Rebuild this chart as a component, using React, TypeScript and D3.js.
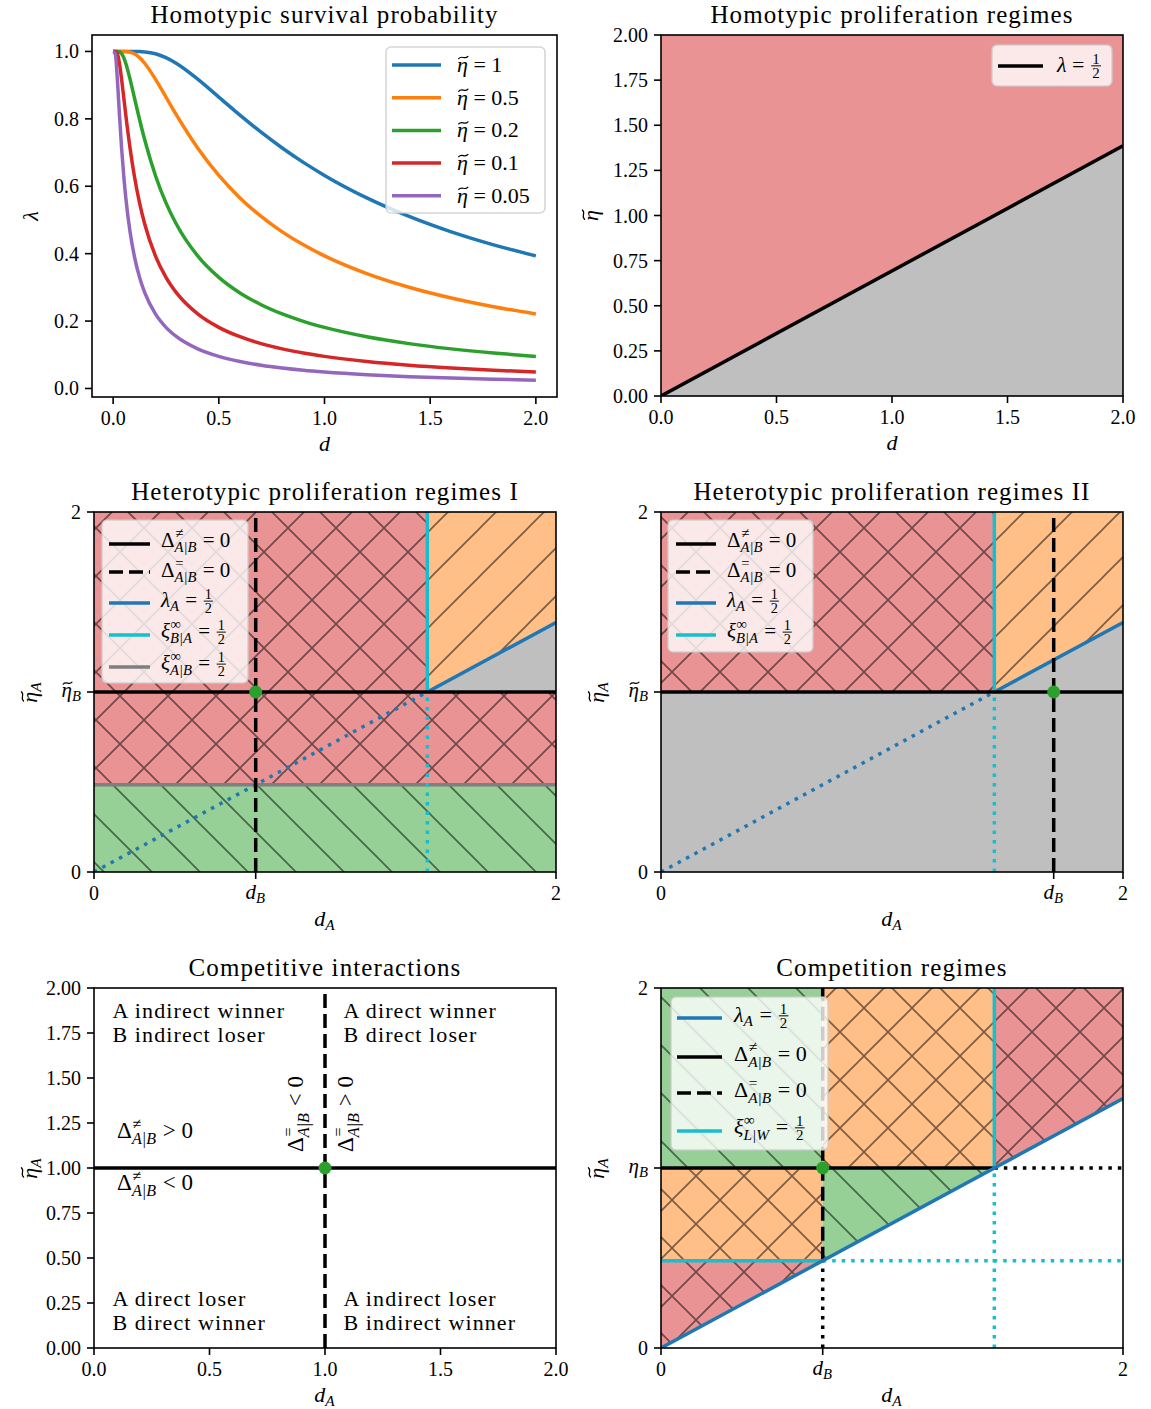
import React from 'react';
import * as d3 from 'd3';

// ---------- survival curves: lambda(d) for several eta~ ----------
const dGrid = [0, 0.01, 0.02, 0.03, 0.04, 0.05, 0.06, 0.08, 0.1, 0.125, 0.15, 0.2, 0.25, 0.3, 0.4, 0.5, 0.6, 0.7, 0.8, 0.9, 1.0, 1.2, 1.4, 1.6, 1.8, 2.0];
const survivalEta1 = [1, 1, 1, 1, 1, 1, 1, 1, 1, 0.9997, 0.9987, 0.9933, 0.9817, 0.9643, 0.9179, 0.8647, 0.8111, 0.7604, 0.7135, 0.6708, 0.6321, 0.5654, 0.5105, 0.4647, 0.4262, 0.3935];
const survivalEta05 = [1, 1, 1, 1, 1, 1, 0.9998, 0.9981, 0.9933, 0.9817, 0.9643, 0.9179, 0.8647, 0.8111, 0.7135, 0.6321, 0.5654, 0.5105, 0.4647, 0.4262, 0.3935, 0.3408, 0.3003, 0.2684, 0.2425, 0.2212];
const survivalEta02 = [1, 1, 1, 0.9987, 0.9933, 0.9817, 0.9643, 0.9179, 0.8647, 0.7981, 0.7364, 0.6321, 0.5507, 0.4866, 0.3935, 0.3297, 0.2835, 0.2485, 0.2212, 0.1993, 0.1813, 0.1535, 0.1331, 0.1175, 0.1052, 0.0952];
const survivalEta01 = [1, 1, 0.9933, 0.9643, 0.9179, 0.8647, 0.8111, 0.7135, 0.6321, 0.5507, 0.4866, 0.3935, 0.3297, 0.2835, 0.2212, 0.1813, 0.1535, 0.1331, 0.1175, 0.1052, 0.0952, 0.08, 0.0689, 0.0606, 0.054, 0.0488];
const survivalEta005 = [1, 0.9933, 0.9179, 0.8111, 0.7135, 0.6321, 0.5654, 0.4647, 0.3935, 0.3297, 0.2835, 0.2212, 0.1813, 0.1535, 0.1175, 0.0952, 0.08, 0.0689, 0.0606, 0.054, 0.0488, 0.0408, 0.0351, 0.0308, 0.0274, 0.0247];
const survivalSeries = [survivalEta1, survivalEta05, survivalEta02, survivalEta01, survivalEta005];
const etaTildeLabels = ['1', '0.5', '0.2', '0.1', '0.05'];

// ---------- regime thresholds ----------
const halfLineD = [0, 2];          // lambda = 1/2 boundary
const halfLineEta = [0, 1.386];
const ETA_B = 1;                   // eta~_B
const D_B_I = 0.7;                 // d_B, regimes I and competition
const D_B_II = 1.7;                // d_B, regimes II
const D_HALF = 1.443;              // where lambda_A = 1/2 meets eta~_B
const ETA_XI = 0.485;              // xi = 1/2 level
const D_EQ = 1.0;                  // competitive interactions crossing
const ETA_EQ = 1.0;

const xTicksHalf = [0, 0.5, 1, 1.5, 2];
const xTickLabels = ['0.0', '0.5', '1.0', '1.5', '2.0'];
const yTicks1 = [0, 0.2, 0.4, 0.6, 0.8, 1.0];
const yTickLabels1 = ['0.0', '0.2', '0.4', '0.6', '0.8', '1.0'];
const yTicksQuarter = [0, 0.25, 0.5, 0.75, 1, 1.25, 1.5, 1.75, 2];
const yTickLabelsQuarter = ['0.00', '0.25', '0.50', '0.75', '1.00', '1.25', '1.50', '1.75', '2.00'];

const quadrantNotes = [
  { d: 0.08, eta: 1.833, lines: ['A indirect winner', 'B indirect loser'] },
  { d: 1.08, eta: 1.833, lines: ['A direct winner', 'B direct loser'] },
  { d: 0.08, eta: 0.233, lines: ['A direct loser', 'B direct winner'] },
  { d: 1.08, eta: 0.233, lines: ['A indirect loser', 'B indirect winner'] },
];

// ---------- styling ----------
const W = 1151, H = 1409;
const FONT = '"Liberation Serif", "Times New Roman", serif';
const C = { blue: '#1f77b4', orange: '#ff7f0e', green: '#2ca02c', red: '#d62728', purple: '#9467bd', cyan: '#17becf', gray: '#7f7f7f' };
const FILL = { red: '#ea9394', orange: '#ffbf87', green: '#96d096', gray: '#bfbfbf' };
const curveColors = [C.blue, C.orange, C.green, C.red, C.purple];
const LW = 3.5;
const DASH = '14 6';
const DOT = '3.5 6';

// ---------- math-ish text ----------
type Tok = { t?: string; it?: boolean; tilde?: boolean; sup?: string; sub?: string; frac?: [string, string] };
let mctx: CanvasRenderingContext2D | null = null;
const nb = (s: string) => s.replace(/ /g, '\u00a0');
function tw(s: string, size: number, it?: boolean) {
  if (!mctx) mctx = document.createElement('canvas').getContext('2d');
  if (!mctx) return s.length * size * 0.5;
  mctx.font = `${it ? 'italic ' : ''}${size}px ${FONT}`;
  return mctx.measureText(nb(s)).width;
}

function MathText({ x, y, toks, size = 20, anchor = 'start', rotate = 0 }: { x: number; y: number; toks: Tok[]; size?: number; anchor?: string; rotate?: number }) {
  const els: any[] = [];
  let cx = 0;
  toks.forEach((tk, i) => {
    if (tk.frac) {
      const fs = size * 0.68;
      const w = Math.max(tw(tk.frac[0], fs), tw(tk.frac[1], fs)) + size * 0.22;
      const ax = -size * 0.28;
      const mid = cx + w / 2;
      els.push(<line key={i + 'b'} x1={cx + size * 0.06} x2={cx + w - size * 0.06} y1={ax} y2={ax} stroke="#000" strokeWidth={size * 0.045} />);
      els.push(<text key={i + 'n'} x={mid} y={ax - size * 0.09} fontSize={fs} textAnchor="middle">{tk.frac[0]}</text>);
      els.push(<text key={i + 'd'} x={mid} y={ax + size * 0.1 + fs * 0.68} fontSize={fs} textAnchor="middle">{tk.frac[1]}</text>);
      cx += w;
    } else if (tk.sup !== undefined || tk.sub !== undefined) {
      const fs = size * 0.7;
      const both = tk.sup !== undefined && tk.sub !== undefined;
      let w = 0;
      if (tk.sup !== undefined) {
        els.push(<text key={i + 'p'} x={cx + size * 0.03} y={-size * 0.41} fontSize={fs}>{tk.sup}</text>);
        w = Math.max(w, tw(tk.sup, fs));
      }
      if (tk.sub !== undefined) {
        els.push(<text key={i + 's'} x={cx} y={size * (both ? 0.25 : 0.2)} fontSize={fs} fontStyle="italic">{tk.sub}</text>);
        w = Math.max(w, tw(tk.sub, fs, true));
      }
      cx += w + size * 0.05;
    } else {
      const s = tk.t || '';
      const w = tw(s, size, tk.it);
      els.push(<text key={i} x={cx} y={0} fontSize={size} fontStyle={tk.it ? 'italic' : 'normal'}>{nb(s)}</text>);
      if (tk.tilde) {
        const m = cx + w * 0.58;
        const ty = -size * 0.66;
        const ww = size * 0.42;
        const a = size * 0.05;
        const x0 = m - ww / 2;
        els.push(<path key={i + 't'} d={`M${x0},${ty + a} C${x0 + ww / 3},${ty - 2.4 * a} ${x0 + (2 * ww) / 3},${ty + 2.4 * a} ${x0 + ww},${ty - a}`} fill="none" stroke="#000" strokeWidth={size * 0.055} strokeLinecap="round" />);
      }
      cx += w;
    }
  });
  const dx = anchor === 'middle' ? -cx / 2 : anchor === 'end' ? -cx : 0;
  return <g transform={`translate(${x},${y}) rotate(${rotate}) translate(${dx},0)`}>{els}</g>;
}

// token sets
const tEta: Tok[] = [{ t: 'η', it: true, tilde: true }];
const tEtaA: Tok[] = [{ t: 'η', it: true, tilde: true }, { sub: 'A' }];
const tEtaB: Tok[] = [{ t: 'η', it: true, tilde: true }, { sub: 'B' }];
const tEtaBPlain: Tok[] = [{ t: 'η', it: true }, { sub: 'B' }];
const tD: Tok[] = [{ t: 'd', it: true }];
const tDA: Tok[] = [{ t: 'd', it: true }, { sub: 'A' }];
const tDB: Tok[] = [{ t: 'd', it: true }, { sub: 'B' }];
const tLam: Tok[] = [{ t: 'λ', it: true }];
const tDneq = (rel: string): Tok[] => [{ t: 'Δ' }, { sup: '≠', sub: 'A|B' }, { t: rel }];
const tDeq = (rel: string): Tok[] => [{ t: 'Δ' }, { sup: '=', sub: 'A|B' }, { t: rel }];
const tLamHalf: Tok[] = [{ t: 'λ', it: true }, { t: ' = ' }, { frac: ['1', '2'] }];
const tLamAHalf: Tok[] = [{ t: 'λ', it: true }, { sub: 'A' }, { t: ' = ' }, { frac: ['1', '2'] }];
const tXi = (sub: string): Tok[] => [{ t: 'ξ', it: true }, { sup: '∞', sub }, { t: ' = ' }, { frac: ['1', '2'] }];

// ---------- helpers ----------
type Sc = d3.ScaleLinear<number, number>;
type Box = { x0: number; x1: number; y0: number; y1: number };
const polyPath = (xs: Sc, ys: Sc, pts: [number, number][]) => 'M' + pts.map(([a, b]) => `${xs(a)},${ys(b)}`).join('L') + 'Z';

function Region({ xs, ys, pts, fill, hatch }: { xs: Sc; ys: Sc; pts: [number, number][]; fill: string; hatch?: string }) {
  const d = polyPath(xs, ys, pts);
  return (
    <g>
      <path d={d} fill={fill} />
      {hatch && <path d={d} fill={`url(#${hatch})`} />}
    </g>
  );
}

function Seg({ xs, ys, a, b, color, dash, w = LW }: { xs: Sc; ys: Sc; a: [number, number]; b: [number, number]; color: string; dash?: string; w?: number }) {
  const d = d3.line()([[xs(a[0]), ys(a[1])], [xs(b[0]), ys(b[1])]]) || '';
  return <path d={d} fill="none" stroke={color} strokeWidth={w} strokeDasharray={dash} />;
}

type TickSpec = [number, string | Tok[]];
function Frame({ box, xs, ys, xt, yt, title, xlabel, ylabel, ylabOff }: { box: Box; xs: Sc; ys: Sc; xt: TickSpec[]; yt: TickSpec[]; title: string; xlabel: Tok[]; ylabel: Tok[]; ylabOff: number }) {
  const { x0, x1, y0, y1 } = box;
  return (
    <g>
      <rect x={x0} y={y0} width={x1 - x0} height={y1 - y0} fill="none" stroke="#000" strokeWidth={1.6} />
      {xt.map(([v, lab], i) => {
        const x = xs(v);
        return (
          <g key={'x' + i}>
            <line x1={x} x2={x} y1={y1} y2={y1 + 7} stroke="#000" strokeWidth={1.6} />
            {typeof lab === 'string'
              ? <text x={x} y={y1 + 28} fontSize={20} textAnchor="middle">{lab}</text>
              : <MathText x={x} y={y1 + 27} toks={lab} size={21} anchor="middle" />}
          </g>
        );
      })}
      {yt.map(([v, lab], i) => {
        const y = ys(v);
        return (
          <g key={'y' + i}>
            <line x1={x0 - 7} x2={x0} y1={y} y2={y} stroke="#000" strokeWidth={1.6} />
            {typeof lab === 'string'
              ? <text x={x0 - 13} y={y + 7} fontSize={20} textAnchor="end">{lab}</text>
              : <MathText x={x0 - 12} y={y + 5} toks={lab} size={21} anchor="end" />}
          </g>
        );
      })}
      <text x={(x0 + x1) / 2} y={y0 - 12} fontSize={25} letterSpacing={1.1} textAnchor="middle">{title}</text>
      <MathText x={(x0 + x1) / 2} y={y1 + 54} toks={xlabel} size={22} anchor="middle" />
      <MathText x={x0 - ylabOff} y={(y0 + y1) / 2} toks={ylabel} size={22} anchor="middle" rotate={-90} />
    </g>
  );
}

type LegendRow = { color: string; dash?: string; toks: Tok[]; base: number };
function Legend({ box, hx, tx, ys, rows, size = 22 }: { box: [number, number, number, number]; hx: [number, number]; tx: number; ys: number[]; rows: LegendRow[]; size?: number }) {
  const [x0, y0, x1, y1] = box;
  return (
    <g>
      <rect x={x0} y={y0} width={x1 - x0} height={y1 - y0} rx={5} fill="#fff" fillOpacity={0.8} stroke="#cccccc" strokeOpacity={0.8} strokeWidth={1.6} />
      {rows.map((r, i) => (
        <g key={i}>
          <line x1={hx[0]} x2={hx[1]} y1={ys[i]} y2={ys[i]} stroke={r.color} strokeWidth={LW} strokeDasharray={r.dash} />
          <MathText x={tx} y={ys[i] + r.base} toks={r.toks} size={size} />
        </g>
      ))}
    </g>
  );
}

const Dot = ({ xs, ys, p }: { xs: Sc; ys: Sc; p: [number, number] }) => <circle cx={xs(p[0])} cy={ys(p[1])} r={6.5} fill={C.green} />;

// ---------- layout ----------
const boxP1: Box = { x0: 92, x1: 557, y0: 35, y1: 397 };
const boxP2: Box = { x0: 661, x1: 1123, y0: 35, y1: 396 };
const boxP3: Box = { x0: 94, x1: 556, y0: 512, y1: 872 };
const boxP4: Box = { x0: 661, x1: 1123, y0: 512, y1: 872 };
const boxP5: Box = { x0: 94, x1: 556, y0: 988, y1: 1348 };
const boxP6: Box = { x0: 661, x1: 1123, y0: 988, y1: 1348 };
const sx = (b: Box, dom: [number, number] = [0, 2]) => d3.scaleLinear().domain(dom).range([b.x0, b.x1]);
const sy = (b: Box, dom: [number, number] = [0, 2]) => d3.scaleLinear().domain(dom).range([b.y1, b.y0]);
const Clip = ({ id, b }: { id: string; b: Box }) => (
  <clipPath id={id}><rect x={b.x0} y={b.y0} width={b.x1 - b.x0} height={b.y1 - b.y0} /></clipPath>
);

function SurvivalPanel() {
  const xs = sx(boxP1, [-0.1, 2.1]);
  const ys = sy(boxP1, [-0.0253, 1.0488]);
  const gen = d3.line<number>().x((_, i) => xs(dGrid[i])).y((v) => ys(v)).curve(d3.curveMonotoneX);
  const legendY = etaTildeLabels.map((_, i) => 65 + i * 32.7);
  return (
    <g>
      <g clipPath="url(#c1)">
        {survivalSeries.map((s, i) => (
          <path key={i} d={gen(s) || ''} fill="none" stroke={curveColors[i]} strokeWidth={LW} />
        ))}
      </g>
      <Frame box={boxP1} xs={xs} ys={ys} title="Homotypic survival probability"
        xt={xTicksHalf.map((v, i) => [v, xTickLabels[i]] as TickSpec)}
        yt={yTicks1.map((v, i) => [v, yTickLabels1[i]] as TickSpec)}
        xlabel={tD} ylabel={tLam} ylabOff={54} />
      <Legend box={[386, 47, 545, 213]} hx={[392, 441]} tx={457} ys={legendY}
        rows={etaTildeLabels.map((l, i) => ({ color: curveColors[i], toks: [...tEta, { t: ' = ' + l }], base: 7 }))} />
    </g>
  );
}

function HomotypicRegimes() {
  const xs = sx(boxP2), ys = sy(boxP2);
  const top: [number, number] = [halfLineD[1], halfLineEta[1]];
  return (
    <g>
      <g clipPath="url(#c2)">
        <Region xs={xs} ys={ys} fill={FILL.red} pts={[[halfLineD[0], halfLineEta[0]], [0, 2], [2, 2], top]} />
        <Region xs={xs} ys={ys} fill={FILL.gray} pts={[[halfLineD[0], halfLineEta[0]], top, [2, 0]]} />
        <Seg xs={xs} ys={ys} a={[halfLineD[0], halfLineEta[0]]} b={top} color="#000" />
      </g>
      <Frame box={boxP2} xs={xs} ys={ys} title="Homotypic proliferation regimes"
        xt={xTicksHalf.map((v, i) => [v, xTickLabels[i]] as TickSpec)}
        yt={yTicksQuarter.map((v, i) => [v, yTickLabelsQuarter[i]] as TickSpec)}
        xlabel={tD} ylabel={tEta} ylabOff={63} />
      <Legend box={[992, 45, 1112, 86]} hx={[998, 1043]} tx={1057} ys={[66]} rows={[{ color: '#000', toks: tLamHalf, base: 6 }]} />
    </g>
  );
}

function HeteroRegimesI() {
  const xs = sx(boxP3), ys = sy(boxP3);
  const end: [number, number] = [halfLineD[1], halfLineEta[1]];
  return (
    <g>
      <g clipPath="url(#c3)">
        <Region xs={xs} ys={ys} fill={FILL.green} hatch="hb" pts={[[0, 0], [2, 0], [2, ETA_XI], [0, ETA_XI]]} />
        <Region xs={xs} ys={ys} fill={FILL.red} hatch="hx" pts={[[0, ETA_XI], [0, 2], [D_HALF, 2], [D_HALF, ETA_B], [2, ETA_B], [2, ETA_XI]]} />
        <Region xs={xs} ys={ys} fill={FILL.orange} hatch="hf" pts={[[D_HALF, ETA_B], [D_HALF, 2], [2, 2], end]} />
        <Region xs={xs} ys={ys} fill={FILL.gray} pts={[[D_HALF, ETA_B], [2, ETA_B], end]} />
        <Seg xs={xs} ys={ys} a={[0, ETA_XI]} b={[2, ETA_XI]} color={C.gray} />
        <Seg xs={xs} ys={ys} a={[halfLineD[0], halfLineEta[0]]} b={[D_HALF, ETA_B]} color={C.blue} dash={DOT} />
        <Seg xs={xs} ys={ys} a={[D_HALF, ETA_B]} b={end} color={C.blue} />
        <Seg xs={xs} ys={ys} a={[D_HALF, 0]} b={[D_HALF, ETA_B]} color={C.cyan} dash={DOT} />
        <Seg xs={xs} ys={ys} a={[D_HALF, ETA_B]} b={[D_HALF, 2]} color={C.cyan} />
        <Seg xs={xs} ys={ys} a={[0, ETA_B]} b={[2, ETA_B]} color="#000" />
        <Seg xs={xs} ys={ys} a={[D_B_I, 0]} b={[D_B_I, 2]} color="#000" dash={DASH} />
        <Dot xs={xs} ys={ys} p={[D_B_I, ETA_B]} />
      </g>
      <Frame box={boxP3} xs={xs} ys={ys} title="Heterotypic proliferation regimes I"
        xt={[[0, '0'], [D_B_I, tDB], [2, '2']]}
        yt={[[0, '0'], [ETA_B, tEtaB], [2, '2']]}
        xlabel={tDA} ylabel={tEtaA} ylabOff={57} />
      <Legend box={[102, 520, 248, 683]} hx={[109, 150]} tx={161} ys={[544, 572, 603, 635, 667]} size={21}
        rows={[
          { color: '#000', toks: tDneq(' = 0'), base: 3 },
          { color: '#000', dash: DASH, toks: tDeq(' = 0'), base: 5 },
          { color: C.blue, toks: tLamAHalf, base: 4 },
          { color: C.cyan, toks: tXi('B|A'), base: 3 },
          { color: C.gray, toks: tXi('A|B'), base: 3 },
        ]} />
    </g>
  );
}

function HeteroRegimesII() {
  const xs = sx(boxP4), ys = sy(boxP4);
  const end: [number, number] = [halfLineD[1], halfLineEta[1]];
  return (
    <g>
      <g clipPath="url(#c4)">
        <Region xs={xs} ys={ys} fill={FILL.gray} pts={[[0, 0], [2, 0], [2, 2], [0, 2]]} />
        <Region xs={xs} ys={ys} fill={FILL.red} hatch="hx" pts={[[0, ETA_B], [0, 2], [D_HALF, 2], [D_HALF, ETA_B]]} />
        <Region xs={xs} ys={ys} fill={FILL.orange} hatch="hf" pts={[[D_HALF, ETA_B], [D_HALF, 2], [2, 2], end]} />
        <Seg xs={xs} ys={ys} a={[halfLineD[0], halfLineEta[0]]} b={[D_HALF, ETA_B]} color={C.blue} dash={DOT} />
        <Seg xs={xs} ys={ys} a={[D_HALF, ETA_B]} b={end} color={C.blue} />
        <Seg xs={xs} ys={ys} a={[D_HALF, 0]} b={[D_HALF, ETA_B]} color={C.cyan} dash={DOT} />
        <Seg xs={xs} ys={ys} a={[D_HALF, ETA_B]} b={[D_HALF, 2]} color={C.cyan} />
        <Seg xs={xs} ys={ys} a={[0, ETA_B]} b={[2, ETA_B]} color="#000" />
        <Seg xs={xs} ys={ys} a={[D_B_II, 0]} b={[D_B_II, 2]} color="#000" dash={DASH} />
        <Dot xs={xs} ys={ys} p={[D_B_II, ETA_B]} />
      </g>
      <Frame box={boxP4} xs={xs} ys={ys} title="Heterotypic proliferation regimes II"
        xt={[[0, '0'], [D_B_II, tDB], [2, '2']]}
        yt={[[0, '0'], [ETA_B, tEtaB], [2, '2']]}
        xlabel={tDA} ylabel={tEtaA} ylabOff={57} />
      <Legend box={[668, 520, 813, 652]} hx={[676, 716]} tx={727} ys={[544, 572, 603, 635]} size={21}
        rows={[
          { color: '#000', toks: tDneq(' = 0'), base: 3 },
          { color: '#000', dash: DASH, toks: tDeq(' = 0'), base: 5 },
          { color: C.blue, toks: tLamAHalf, base: 4 },
          { color: C.cyan, toks: tXi('B|A'), base: 3 },
        ]} />
    </g>
  );
}

function CompetitiveInteractions() {
  const xs = sx(boxP5), ys = sy(boxP5);
  return (
    <g>
      <g clipPath="url(#c5)">
        <Seg xs={xs} ys={ys} a={[0, ETA_EQ]} b={[2, ETA_EQ]} color="#000" />
        <Seg xs={xs} ys={ys} a={[D_EQ, 0]} b={[D_EQ, 2]} color="#000" dash={DASH} />
        <Dot xs={xs} ys={ys} p={[D_EQ, ETA_EQ]} />
      </g>
      {quadrantNotes.map((q, i) => (
        <g key={i}>
          {q.lines.map((l, j) => (
            <text key={j} x={xs(q.d)} y={ys(q.eta) + j * 24} fontSize={22} letterSpacing={1.1}>{l}</text>
          ))}
        </g>
      ))}
      <MathText x={xs(0.1)} y={ys(1.167)} toks={tDneq(' > 0')} size={23} />
      <MathText x={xs(0.1)} y={ys(0.878)} toks={tDneq(' < 0')} size={23} />
      <MathText x={xs(0.905)} y={ys(1.089)} toks={tDeq(' < 0')} size={23} rotate={-90} />
      <MathText x={xs(1.121)} y={ys(1.089)} toks={tDeq(' > 0')} size={23} rotate={-90} />
      <Frame box={boxP5} xs={xs} ys={ys} title="Competitive interactions"
        xt={xTicksHalf.map((v, i) => [v, xTickLabels[i]] as TickSpec)}
        yt={yTicksQuarter.map((v, i) => [v, yTickLabelsQuarter[i]] as TickSpec)}
        xlabel={tDA} ylabel={tEtaA} ylabOff={57} />
    </g>
  );
}

function CompetitionRegimes() {
  const xs = sx(boxP6), ys = sy(boxP6);
  const end: [number, number] = [halfLineD[1], halfLineEta[1]];
  const origin: [number, number] = [halfLineD[0], halfLineEta[0]];
  return (
    <g>
      <g clipPath="url(#c6)">
        <Region xs={xs} ys={ys} fill={FILL.green} hatch="hb" pts={[[0, ETA_B], [0, 2], [D_B_I, 2], [D_B_I, ETA_B]]} />
        <Region xs={xs} ys={ys} fill={FILL.orange} hatch="hx" pts={[[D_B_I, ETA_B], [D_B_I, 2], [D_HALF, 2], [D_HALF, ETA_B]]} />
        <Region xs={xs} ys={ys} fill={FILL.orange} hatch="hx" pts={[[0, ETA_XI], [0, ETA_B], [D_B_I, ETA_B], [D_B_I, ETA_XI]]} />
        <Region xs={xs} ys={ys} fill={FILL.red} hatch="hx" pts={[[D_HALF, ETA_B], [D_HALF, 2], [2, 2], end]} />
        <Region xs={xs} ys={ys} fill={FILL.red} hatch="hx" pts={[origin, [0, ETA_XI], [D_B_I, ETA_XI]]} />
        <Region xs={xs} ys={ys} fill={FILL.green} hatch="hb" pts={[[D_B_I, ETA_XI], [D_B_I, ETA_B], [D_HALF, ETA_B]]} />
        <Seg xs={xs} ys={ys} a={[D_B_I, 0]} b={[D_B_I, ETA_XI]} color="#000" dash={DOT} />
        <Seg xs={xs} ys={ys} a={[D_B_I, ETA_XI]} b={[D_B_I, 2]} color="#000" dash={DASH} />
        <Seg xs={xs} ys={ys} a={[0, ETA_B]} b={[D_HALF, ETA_B]} color="#000" />
        <Seg xs={xs} ys={ys} a={[D_HALF, ETA_B]} b={[2, ETA_B]} color="#000" dash={DOT} />
        <Seg xs={xs} ys={ys} a={[D_HALF, 0]} b={[D_HALF, ETA_B]} color={C.cyan} dash={DOT} />
        <Seg xs={xs} ys={ys} a={[D_HALF, ETA_B]} b={[D_HALF, 2]} color={C.cyan} />
        <Seg xs={xs} ys={ys} a={[0, ETA_XI]} b={[D_B_I, ETA_XI]} color={C.cyan} />
        <Seg xs={xs} ys={ys} a={[D_B_I, ETA_XI]} b={[2, ETA_XI]} color={C.cyan} dash={DOT} />
        <Seg xs={xs} ys={ys} a={origin} b={end} color={C.blue} />
        <Dot xs={xs} ys={ys} p={[D_B_I, ETA_B]} />
      </g>
      <Frame box={boxP6} xs={xs} ys={ys} title="Competition regimes"
        xt={[[0, '0'], [D_B_I, tDB], [2, '2']]}
        yt={[[0, '0'], [ETA_B, tEtaBPlain], [2, '2']]}
        xlabel={tDA} ylabel={tEtaA} ylabOff={57} />
      <Legend box={[671, 997, 828, 1150]} hx={[677, 722]} tx={734} ys={[1018, 1057, 1093, 1131]}
        rows={[
          { color: C.blue, toks: tLamAHalf, base: 4 },
          { color: '#000', toks: tDneq(' = 0'), base: 4 },
          { color: '#000', dash: DASH, toks: tDeq(' = 0'), base: 4 },
          { color: C.cyan, toks: tXi('L|W'), base: 3 },
        ]} />
    </g>
  );
}

export default function App() {
  const hatchStroke = { stroke: '#000', strokeOpacity: 0.52, strokeWidth: 1.6, fill: 'none' };
  return (
    <svg width={W} height={H} viewBox={`0 0 ${W} ${H}`} fontFamily={FONT}
      style={{ position: 'absolute', left: 0, top: 0, background: '#fff' }}>
      <defs>
        <pattern id="hf" patternUnits="userSpaceOnUse" width={48} height={48}>
          <path d="M0,48 L48,0 M-6,6 L6,-6 M42,54 L54,42" {...hatchStroke} />
        </pattern>
        <pattern id="hb" patternUnits="userSpaceOnUse" width={48} height={48}>
          <path d="M0,0 L48,48 M-6,42 L6,54 M42,-6 L54,6" {...hatchStroke} />
        </pattern>
        <pattern id="hx" patternUnits="userSpaceOnUse" width={48} height={48}>
          <path d="M0,48 L48,0 M-6,6 L6,-6 M42,54 L54,42 M0,0 L48,48 M-6,42 L6,54 M42,-6 L54,6" {...hatchStroke} />
        </pattern>
        <Clip id="c1" b={boxP1} />
        <Clip id="c2" b={boxP2} />
        <Clip id="c3" b={boxP3} />
        <Clip id="c4" b={boxP4} />
        <Clip id="c5" b={boxP5} />
        <Clip id="c6" b={boxP6} />
      </defs>
      <rect x={0} y={0} width={W} height={H} fill="#fff" />
      <SurvivalPanel />
      <HomotypicRegimes />
      <HeteroRegimesI />
      <HeteroRegimesII />
      <CompetitiveInteractions />
      <CompetitionRegimes />
    </svg>
  );
}
